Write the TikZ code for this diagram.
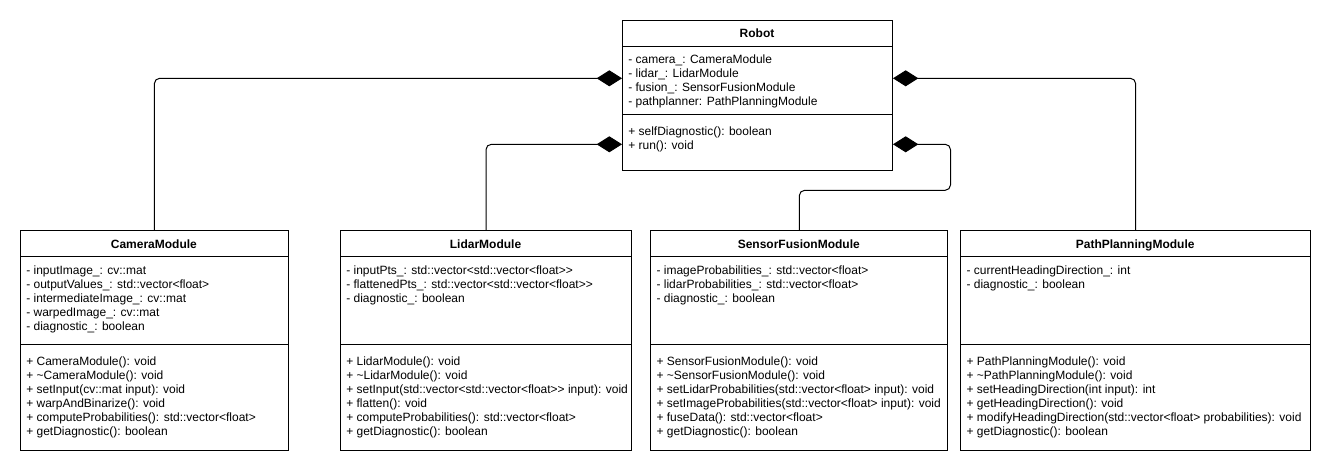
\documentclass[tikz,border=0pt]{standalone}
\usepackage{fontspec}
\setmainfont{Liberation Sans}
\usetikzlibrary{arrows.meta}
\tikzset{
  box/.style={draw, line width=0.75pt, inner sep=0pt, anchor=north west},
  ttl/.style={font=\fontsize{9}{10.5}\selectfont\bfseries, anchor=base, inner sep=0pt},
  txt/.style={anchor=base west, inner sep=0pt},
  sep/.style={line width=0.75pt},
  conn/.style={line width=0.75pt, rounded corners=4pt, -{Diamond[length=19pt, width=12pt]}},
}
\begin{document}
\begin{tikzpicture}[x=0.75pt, y=-0.75pt, font=\fontsize{9}{10.5}\selectfont]
\useasboundingbox (0,0) rectangle (1331,474);
% ---------- Robot
\node[box, minimum width={270*0.75pt}, minimum height={150*0.75pt}] (robot) at (622,20) {};
\node[ttl] (robot-t) at (757,38) {Robot};
\draw[sep] (robot.west |- 0,46.5) -- (robot.east |- 0,46.5);
\draw[sep] (robot.west |- 0,114.3) -- (robot.east |- 0,114.3);
\foreach \t [count=\i from 0] in {- camera\_: CameraModule, - lidar\_: LidarModule, - fusion\_: SensorFusionModule, - pathplanner: PathPlanningModule}
  \node[txt] (robot-a\i) at (628,{64+14*\i}) {\t};
\foreach \t [count=\i from 0] in {+ selfDiagnostic(): boolean, + run(): void}
  \node[txt] (robot-m\i) at (628,{135.5+14*\i}) {\t};
% ---------- CameraModule
\node[box, minimum width={267.7*0.75pt}, minimum height={220*0.75pt}] (cam) at (20,230) {};
\node[ttl] (cam-t) at (153.85,248) {CameraModule};
\draw[sep] (cam.west |- 0,256) -- (cam.east |- 0,256);
\draw[sep] (cam.west |- 0,344.5) -- (cam.east |- 0,344.5);
\foreach \t [count=\i from 0] in {- inputImage\_: cv::mat, - outputValues\_: std::vector<float>, - intermediateImage\_: cv::mat, - warpedImage\_: cv::mat, - diagnostic\_: boolean}
  \node[txt] (cam-a\i) at (26,{274+14*\i}) {\t};
\foreach \t [count=\i from 0] in {+ CameraModule(): void, + \textasciitilde CameraModule(): void, + setInput(cv::mat input): void, + warpAndBinarize(): void, + computeProbabilities(): std::vector<float>, + getDiagnostic(): boolean}
  \node[txt] (cam-m\i) at (26,{365.7+14*\i}) {\t};
% ---------- LidarModule
\node[box, minimum width={291*0.75pt}, minimum height={220*0.75pt}] (lidar) at (340,230) {};
\node[ttl] (lidar-t) at (485.5,248) {LidarModule};
\draw[sep] (lidar.west |- 0,256) -- (lidar.east |- 0,256);
\draw[sep] (lidar.west |- 0,344.5) -- (lidar.east |- 0,344.5);
\foreach \t [count=\i from 0] in {- inputPts\_: std::vector<std::vector<float>{}>, - flattenedPts\_: std::vector<std::vector<float>{}>, - diagnostic\_: boolean}
  \node[txt] (lidar-a\i) at (346,{274+14*\i}) {\t};
\foreach \t [count=\i from 0] in {+ LidarModule(): void, + \textasciitilde LidarModule(): void, + setInput(std::vector<std::vector<float>{}> input): void, + flatten(): void, + computeProbabilities(): std::vector<float>, + getDiagnostic(): boolean}
  \node[txt] (lidar-m\i) at (346,{365.7+14*\i}) {\t};
% ---------- SensorFusionModule
\node[box, minimum width={297*0.75pt}, minimum height={220*0.75pt}] (sf) at (650.3,230) {};
\node[ttl] (sf-t) at (798.8,248) {SensorFusionModule};
\draw[sep] (sf.west |- 0,256) -- (sf.east |- 0,256);
\draw[sep] (sf.west |- 0,344.5) -- (sf.east |- 0,344.5);
\foreach \t [count=\i from 0] in {- imageProbabilities\_: std::vector<float>, - lidarProbabilities\_: std::vector<float>, - diagnostic\_: boolean}
  \node[txt] (sf-a\i) at (656.3,{274+14*\i}) {\t};
\foreach \t [count=\i from 0] in {+ SensorFusionModule(): void, + \textasciitilde SensorFusionModule(): void, + setLidarProbabilities(std::vector<float> input): void, + setImageProbabilities(std::vector<float> input): void, + fuseData(): std::vector<float>, + getDiagnostic(): boolean}
  \node[txt] (sf-m\i) at (656.3,{365.7+14*\i}) {\t};
% ---------- PathPlanningModule
\node[box, minimum width={349.7*0.75pt}, minimum height={220*0.75pt}] (pp) at (960.3,230) {};
\node[ttl] (pp-t) at (1135.15,248) {PathPlanningModule};
\draw[sep] (pp.west |- 0,256) -- (pp.east |- 0,256);
\draw[sep] (pp.west |- 0,344.5) -- (pp.east |- 0,344.5);
\foreach \t [count=\i from 0] in {- currentHeadingDirection\_: int, - diagnostic\_: boolean}
  \node[txt] (pp-a\i) at (966.3,{274+14*\i}) {\t};
\foreach \t [count=\i from 0] in {+ PathPlanningModule(): void, + \textasciitilde PathPlanningModule(): void, + setHeadingDirection(int input): int, + getHeadingDirection(): void, + modifyHeadingDirection(std::vector<float> probabilities): void, + getDiagnostic(): boolean}
  \node[txt] (pp-m\i) at (966.3,{365.7+14*\i}) {\t};
% ---------- connectors
\coordinate (sfbend) at (950.5,190.3);
\draw[conn] (cam.north) |- (robot.west |- 0,78.3);
\draw[conn] (lidar.north) |- (robot.west |- 0,144.3);
\draw[conn] (sf.north) |- (sfbend) |- (robot.east |- 0,144.3);
\draw[conn] (pp.north) |- (robot.east |- 0,78.3);
\end{tikzpicture}
\end{document}
